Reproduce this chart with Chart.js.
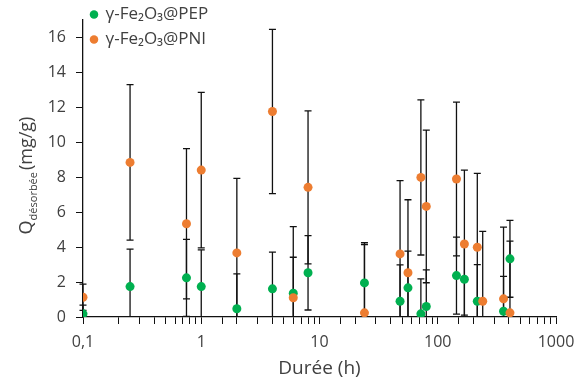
<!DOCTYPE html>
<html>
<head>
<meta charset="utf-8">
<script src="https://cdn.jsdelivr.net/npm/chart.js@4"></script>
<style>
  body { margin: 0; background: #fff; }
  canvas { display: block; }
</style>
</head>
<body>
<canvas id="chart" width="574" height="380"></canvas>
<script>
// Durée (h) and Q désorbée (mg/g)
const dureePEP = [0.1, 0.25, 0.75, 1, 2, 4, 6, 8, 24, 48, 56, 72, 80, 144, 168, 216, 360, 408];
const qPEP = [0.18, 1.74, 2.24, 1.74, 0.47, 1.61, 1.36, 2.53, 1.95, 0.9, 1.67, 0.18, 0.6, 2.37, 2.16, 0.9, 0.33, 3.33];
const errPEP = [0.5, 2.15, 2.2, 2.1, 2.0, 2.1, 2.06, 2.13, 2.3, 2.08, 2.1, 2.0, 2.1, 2.2, 2.05, 2.1, 2.0, 2.2];

const dureePNI = [0.1, 0.25, 0.75, 1, 2, 4, 6, 8, 24, 48, 56, 72, 80, 144, 168, 216, 240, 360, 408];
const qPNI = [1.13, 8.85, 5.34, 8.41, 3.67, 11.76, 1.1, 7.42, 0.24, 3.61, 2.53, 7.99, 6.33, 7.9, 4.18, 3.99, 0.9, 1.04, 0.24];
const errPNI = [0.75, 4.45, 4.3, 4.45, 4.27, 4.7, 4.07, 4.38, 3.9, 4.2, 4.18, 4.44, 4.37, 4.4, 4.23, 4.23, 4.0, 4.1, 4.1];

const yTicks = [0, 2, 4, 6, 8, 10, 12, 14, 16];

const textColor = '#404040';
Chart.defaults.font.family = '"Open Sans", sans-serif';
Chart.defaults.color = textColor;

function toPoints(xs, ys) {
    return xs.map((x, i) => ({ x: x, y: ys[i] }));
}

// vertical error bars with caps, drawn under the points
const errorBars = {
    id: 'errorBars',
    beforeDatasetsDraw(chart) {
        const { ctx, chartArea } = chart;
        const xs = chart.scales.x, ys = chart.scales.y;
        ctx.save();
        ctx.beginPath();
        ctx.rect(chartArea.left - 6, chartArea.top - 2, chartArea.width + 12, chartArea.height + 2);
        ctx.clip();
        ctx.strokeStyle = '#111';
        ctx.lineWidth = 1.3;
        chart.data.datasets.forEach(ds => {
            ds.data.forEach((p, i) => {
                const e = ds.errors[i];
                const px = xs.getPixelForValue(p.x);
                const top = ys.getPixelForValue(p.y + e);
                const bot = ys.getPixelForValue(p.y - e);
                ctx.beginPath();
                ctx.moveTo(px, top); ctx.lineTo(px, bot);
                ctx.moveTo(px - 3.5, top); ctx.lineTo(px + 3.5, top);
                ctx.moveTo(px - 3.5, bot); ctx.lineTo(px + 3.5, bot);
                ctx.stroke();
            });
        });
        ctx.restore();
    }
};

// y title with the "désorbée" subscript
const yTitle = {
    id: 'yTitle',
    afterDraw(chart) {
        const ctx = chart.ctx;
        const a = chart.chartArea;
        const big = '18px "Open Sans"', small = '11px "Open Sans"';
        ctx.save();
        ctx.font = big;
        const wQ = ctx.measureText('Q').width;
        const wU = ctx.measureText('(mg/g)').width;
        ctx.font = small;
        const wS = ctx.measureText('désorbée').width;
        const total = wQ + wS + 2 + wU;
        const cy = (a.top + a.bottom) / 2 + 7;
        ctx.translate(32, cy + total / 2);
        ctx.rotate(-Math.PI / 2);
        ctx.fillStyle = textColor;
        ctx.textBaseline = 'alphabetic';
        ctx.font = big;
        ctx.fillText('Q', 0, 0);
        ctx.font = small;
        ctx.fillText('désorbée', wQ, 5);
        ctx.font = big;
        ctx.fillText('(mg/g)', wQ + wS + 2, 0);
        ctx.restore();
    }
};

// legend sits in the chart area, pushed up over the top of the axis
const legendNudge = {
    id: 'legendNudge',
    afterLayout(chart) {
        const lg = chart.legend;
        if (lg) {
            const h = lg.bottom - lg.top;
            lg.top = chart.chartArea.top - 22;
            lg.bottom = lg.top + h;
        }
    }
};

new Chart(document.getElementById('chart'), {
    type: 'scatter',
    data: {
        datasets: [{
            label: 'γ-Fe₂O₃@PEP',
            data: toPoints(dureePEP, qPEP),
            errors: errPEP,
            backgroundColor: '#00B050',
            borderColor: '#00B050',
            pointRadius: 4.5,
            pointHoverRadius: 4.5,
            borderWidth: 0,
            order: 1
        }, {
            label: 'γ-Fe₂O₃@PNI',
            data: toPoints(dureePNI, qPNI),
            errors: errPNI,
            backgroundColor: '#ED7D31',
            borderColor: '#ED7D31',
            pointRadius: 4.5,
            pointHoverRadius: 4.5,
            borderWidth: 0,
            order: 0
        }]
    },
    options: {
        responsive: false,
        animation: false,
        layout: { padding: { top: 20, right: 0, bottom: 0, left: 0 } },
        scales: {
            x: {
                type: 'logarithmic',
                min: 0.1,
                max: 1000,
                afterFit: scale => {
                    scale.height = 63;
                    scale.paddingRight = 18;
                },
                border: { display: true, color: '#111', width: 1.3 },
                grid: { drawOnChartArea: false, drawTicks: true, tickLength: 7, color: '#111' },
                ticks: {
                    autoSkip: false,
                    maxRotation: 0,
                    padding: 9,
                    font: { size: 16 },
                    color: textColor,
                    callback: function (value) {
                        const l = Math.log10(value);
                        if (Math.abs(l - Math.round(l)) < 1e-9) {
                            return String(value).replace('.', ',');
                        }
                        return '';
                    }
                },
                title: {
                    display: true,
                    text: 'Durée (h)',
                    font: { size: 19 },
                    color: textColor,
                    padding: { top: 0, bottom: 0 }
                }
            },
            y: {
                min: 0,
                max: 17,
                afterFit: scale => { scale.width = 83; },
                afterBuildTicks: scale => {
                    scale.ticks = yTicks.map(v => ({ value: v }));
                },
                border: { display: true, color: '#111', width: 1.3 },
                grid: { drawOnChartArea: false, drawTicks: true, tickLength: 7, color: '#111' },
                ticks: {
                    padding: 10,
                    font: { size: 16 },
                    color: textColor
                }
            }
        },
        plugins: {
            legend: {
                position: 'chartArea',
                align: 'start',
                labels: {
                    usePointStyle: true,
                    pointStyle: 'circle',
                    boxWidth: 6,
                    boxHeight: 6,
                    padding: 8,
                    color: textColor,
                    font: { size: 17 },
                    sort: (a, b) => a.datasetIndex - b.datasetIndex
                }
            },
            tooltip: { enabled: false }
        }
    },
    plugins: [errorBars, yTitle, legendNudge]
});
</script>
</body>
</html>
